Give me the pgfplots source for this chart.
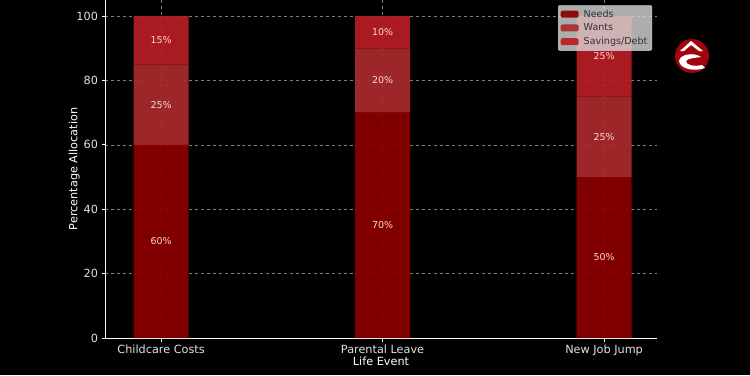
\documentclass[border=0pt]{standalone}
\usepackage{fontspec}
\setmainfont{DejaVu Sans}
\usepackage{pgfplots}
\pgfplotsset{compat=1.18}
\definecolor{needs}{RGB}{139,0,0}
\definecolor{wants}{RGB}{170,42,44}
\definecolor{savings}{RGB}{184,30,36}
\definecolor{ticklab}{RGB}{225,225,225}
\definecolor{pctlab}{RGB}{255,214,214}
\definecolor{logored}{RGB}{160,5,15}
\begin{document}
\begin{tikzpicture}[x=1bp,y=1bp]
\fill[black] (0,0) rectangle (750,375);
\path[use as bounding box] (0,0) rectangle (750,375);
\begin{axis}[
  at={(105bp,37bp)}, anchor=south west, scale only axis,
  width=552bp, height=338bp,
  xmin=-0.253, xmax=2.239, ymin=0, ymax=105,
  ybar stacked, bar width=55bp,
  xtick={0,1,2}, xticklabels={Childcare Costs, Parental Leave, New Job Jump},
  ytick={0,20,...,100},
  axis x line*=bottom, axis y line*=left,
  axis line style={white, line width=0.8bp, -},
  tick style={white, line width=0.8bp}, tick align=outside, major tick length=3.5bp,
  grid=major, grid style={dashed, white!50!black, line width=0.5bp},
  ticklabel style={font=\fontsize{11.3}{13}\selectfont, text=ticklab},
  /pgf/number format/assume math mode=true,
  xlabel={Life Event}, ylabel={Percentage Allocation},
  label style={font=\fontsize{11.3}{13}\selectfont, text=white},
  xlabel style={yshift=6bp},
  ylabel style={yshift=-10bp},
  legend style={at={(0.991,0.985)}, anchor=north east,
    fill=white!85!black, fill opacity=0.8, text opacity=1, draw=white!80!black,
    rounded corners=2bp, text=black!80,
    font=\fontsize{9.6}{11}\selectfont, row sep=1.2bp, column sep=3bp, inner sep=2.5bp},
  legend cell align=left,
  legend image code/.code={\fill[#1, draw=none] (0bp,-3.5bp) rectangle (18bp,3.5bp);},
]
\addplot[fill=needs, draw=none, fill opacity=0.92] coordinates {(0,60) (1,70) (2,50)};
\addplot[fill=wants, draw=none, fill opacity=0.92] coordinates {(0,25) (1,20) (2,25)};
\addplot[fill=savings, draw=none, fill opacity=0.92] coordinates {(0,15) (1,10) (2,25)};
\legend{Needs, Wants, Savings/Debt}
\end{axis}
\begin{axis}[
  at={(105bp,37bp)}, anchor=south west, scale only axis,
  width=552bp, height=338bp,
  xmin=-0.253, xmax=2.239, ymin=0, ymax=105,
  hide axis, clip=false,
]
\addplot[draw=none, mark=none, nodes near coords, point meta=explicit symbolic,
  nodes near coords style={anchor=center, text=pctlab, font=\fontsize{9.5}{11}\selectfont}]
  table[meta=lab] {
x y lab
0 30 60\%
0 72.5 25\%
0 92.5 15\%
1 35 70\%
1 80 20\%
1 95 10\%
2 25 50\%
2 62.5 25\%
2 87.5 25\%
};
\end{axis}
\fill[logored] (692,319) circle (17);
\fill[white] (680,324) -- (691,334) -- (703,324) -- (699,324) -- (691,330) -- (684,324) -- cycle;
\fill[white] (701,318) .. controls (694,323) and (680,321) .. (679,314) .. controls (680,306) and (694,303) .. (705,307) -- (702,310) .. controls (694,308) and (686,310) .. (686,314) .. controls (688,317) and (696,317) .. (701,318) -- cycle;
\end{tikzpicture}
\end{document}
